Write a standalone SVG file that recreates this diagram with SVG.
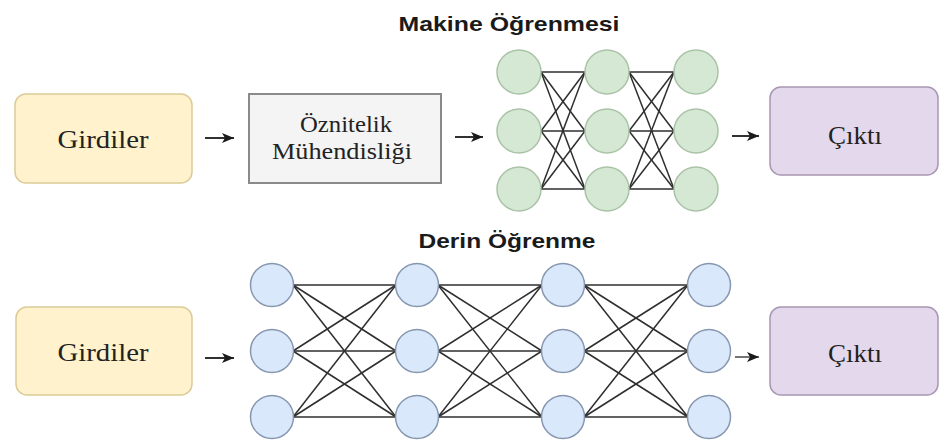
<svg xmlns="http://www.w3.org/2000/svg" width="940" height="441" viewBox="0 0 940 441">
<defs>
<marker id="ah" viewBox="0 0 12 10" refX="12" refY="5" markerWidth="12" markerHeight="10" markerUnits="userSpaceOnUse" orient="auto">
<path d="M0,0 L12,5 L0,10 L3,5 Z" fill="#1a1a1a"/>
</marker>
<style>
.title{font-family:"Liberation Sans",Arial,sans-serif;font-weight:bold;font-size:21px;fill:#1a1a1a;text-anchor:middle}
.lbl{font-family:"Liberation Serif","Times New Roman",serif;font-size:25px;fill:#222;text-anchor:middle}
.lbl2{font-family:"Liberation Serif","Times New Roman",serif;font-size:23px;fill:#222;text-anchor:middle}
.inp{fill:#fff2cc;stroke:#dccb98;stroke-width:1.5}
.out{fill:#e4d9ec;stroke:#a897b3;stroke-width:1.5}
.feat{fill:#f4f4f4;stroke:#8a8a8a;stroke-width:2}
.gn{fill:#d5e8d3;stroke:#aac3a7;stroke-width:1.5}
.bn{fill:#dae8fb;stroke:#8797b0;stroke-width:1.5}
.nn line{stroke:#2e2e2e;stroke-width:1.5}
.arr{stroke:#1a1a1a;stroke-width:1.8;marker-end:url(#ah)}
</style>
</defs>
<rect width="940" height="441" fill="#ffffff"/>

<text class="title" x="509" y="31" textLength="221" lengthAdjust="spacingAndGlyphs">Makine Öğrenmesi</text>
<text class="title" x="507" y="248" textLength="177" lengthAdjust="spacingAndGlyphs" style="font-size:20px">Derin Öğrenme</text>

<g id="connectors">
<line class="arr" x1="205" y1="138" x2="234" y2="138"/>
<line class="arr" x1="455" y1="137" x2="483" y2="137"/>
<line class="arr" x1="732" y1="136" x2="759" y2="136"/>
<line class="arr" x1="205" y1="358" x2="234" y2="358"/>
<line class="arr" x1="735" y1="357" x2="759" y2="357" style="stroke-width:1.2"/>
<g class="nn" id="ml-edges">
<line x1="541" y1="72" x2="585" y2="72"/><line x1="541" y1="72" x2="585" y2="131"/><line x1="541" y1="72" x2="585" y2="189"/>
<line x1="541" y1="131" x2="585" y2="72"/><line x1="541" y1="131" x2="585" y2="131"/><line x1="541" y1="131" x2="585" y2="189"/>
<line x1="541" y1="189" x2="585" y2="72"/><line x1="541" y1="189" x2="585" y2="131"/><line x1="541" y1="189" x2="585" y2="189"/>
<line x1="629" y1="72" x2="674" y2="72"/><line x1="629" y1="72" x2="674" y2="131"/><line x1="629" y1="72" x2="674" y2="189"/>
<line x1="629" y1="131" x2="674" y2="72"/><line x1="629" y1="131" x2="674" y2="131"/><line x1="629" y1="131" x2="674" y2="189"/>
<line x1="629" y1="189" x2="674" y2="72"/><line x1="629" y1="189" x2="674" y2="131"/><line x1="629" y1="189" x2="674" y2="189"/>
</g>
<g class="nn" id="dl-edges">
<line x1="293" y1="285" x2="396" y2="285"/><line x1="293" y1="285" x2="396" y2="351"/><line x1="293" y1="285" x2="396" y2="417"/>
<line x1="293" y1="351" x2="396" y2="285"/><line x1="293" y1="351" x2="396" y2="351"/><line x1="293" y1="351" x2="396" y2="417"/>
<line x1="293" y1="417" x2="396" y2="285"/><line x1="293" y1="417" x2="396" y2="351"/><line x1="293" y1="417" x2="396" y2="417"/>
<line x1="438" y1="285" x2="542" y2="285"/><line x1="438" y1="285" x2="542" y2="351"/><line x1="438" y1="285" x2="542" y2="417"/>
<line x1="438" y1="351" x2="542" y2="285"/><line x1="438" y1="351" x2="542" y2="351"/><line x1="438" y1="351" x2="542" y2="417"/>
<line x1="438" y1="417" x2="542" y2="285"/><line x1="438" y1="417" x2="542" y2="351"/><line x1="438" y1="417" x2="542" y2="417"/>
<line x1="584" y1="285" x2="688" y2="285"/><line x1="584" y1="285" x2="688" y2="351"/><line x1="584" y1="285" x2="688" y2="417"/>
<line x1="584" y1="351" x2="688" y2="285"/><line x1="584" y1="351" x2="688" y2="351"/><line x1="584" y1="351" x2="688" y2="417"/>
<line x1="584" y1="417" x2="688" y2="285"/><line x1="584" y1="417" x2="688" y2="351"/><line x1="584" y1="417" x2="688" y2="417"/>
</g>
</g>

<g id="ml-input"><rect class="inp" x="15" y="94" width="177" height="89" rx="11"/><text class="lbl" x="103" y="148" textLength="91" lengthAdjust="spacingAndGlyphs">Girdiler</text></g>
<g id="ml-features"><rect class="feat" x="249" y="94" width="192" height="89"/>
<text class="lbl2" x="346" y="132" textLength="92" lengthAdjust="spacingAndGlyphs">Öznitelik</text>
<text class="lbl2" x="342" y="159" textLength="140" lengthAdjust="spacingAndGlyphs">Mühendisliği</text></g>
<g id="ml-output"><rect class="out" x="770" y="87" width="168" height="88" rx="11"/><text class="lbl" x="855" y="144" textLength="54" lengthAdjust="spacingAndGlyphs">Çıktı</text></g>

<g id="ml-n11"><circle class="gn" cx="519" cy="72" r="22"/></g>
<g id="ml-n12"><circle class="gn" cx="519" cy="131" r="22"/></g>
<g id="ml-n13"><circle class="gn" cx="519" cy="189" r="22"/></g>
<g id="ml-n21"><circle class="gn" cx="607" cy="72" r="22"/></g>
<g id="ml-n22"><circle class="gn" cx="607" cy="131" r="22"/></g>
<g id="ml-n23"><circle class="gn" cx="607" cy="189" r="22"/></g>
<g id="ml-n31"><circle class="gn" cx="696" cy="72" r="22"/></g>
<g id="ml-n32"><circle class="gn" cx="696" cy="131" r="22"/></g>
<g id="ml-n33"><circle class="gn" cx="696" cy="189" r="22"/></g>

<g id="dl-input"><rect class="inp" x="16" y="307" width="176" height="88" rx="11"/><text class="lbl" x="103" y="361" textLength="91" lengthAdjust="spacingAndGlyphs">Girdiler</text></g>
<g id="dl-output"><rect class="out" x="770" y="307" width="168" height="88" rx="11"/><text class="lbl" x="855" y="362" textLength="54" lengthAdjust="spacingAndGlyphs">Çıktı</text></g>

<g id="dl-n11"><circle class="bn" cx="272" cy="285" r="21.5"/></g>
<g id="dl-n12"><circle class="bn" cx="272" cy="351" r="21.5"/></g>
<g id="dl-n13"><circle class="bn" cx="272" cy="417" r="21.5"/></g>
<g id="dl-n21"><circle class="bn" cx="417" cy="285" r="21.5"/></g>
<g id="dl-n22"><circle class="bn" cx="417" cy="351" r="21.5"/></g>
<g id="dl-n23"><circle class="bn" cx="417" cy="417" r="21.5"/></g>
<g id="dl-n31"><circle class="bn" cx="563" cy="285" r="21.5"/></g>
<g id="dl-n32"><circle class="bn" cx="563" cy="351" r="21.5"/></g>
<g id="dl-n33"><circle class="bn" cx="563" cy="417" r="21.5"/></g>
<g id="dl-n41"><circle class="bn" cx="709" cy="285" r="21.5"/></g>
<g id="dl-n42"><circle class="bn" cx="709" cy="351" r="21.5"/></g>
<g id="dl-n43"><circle class="bn" cx="709" cy="417" r="21.5"/></g>
</svg>
